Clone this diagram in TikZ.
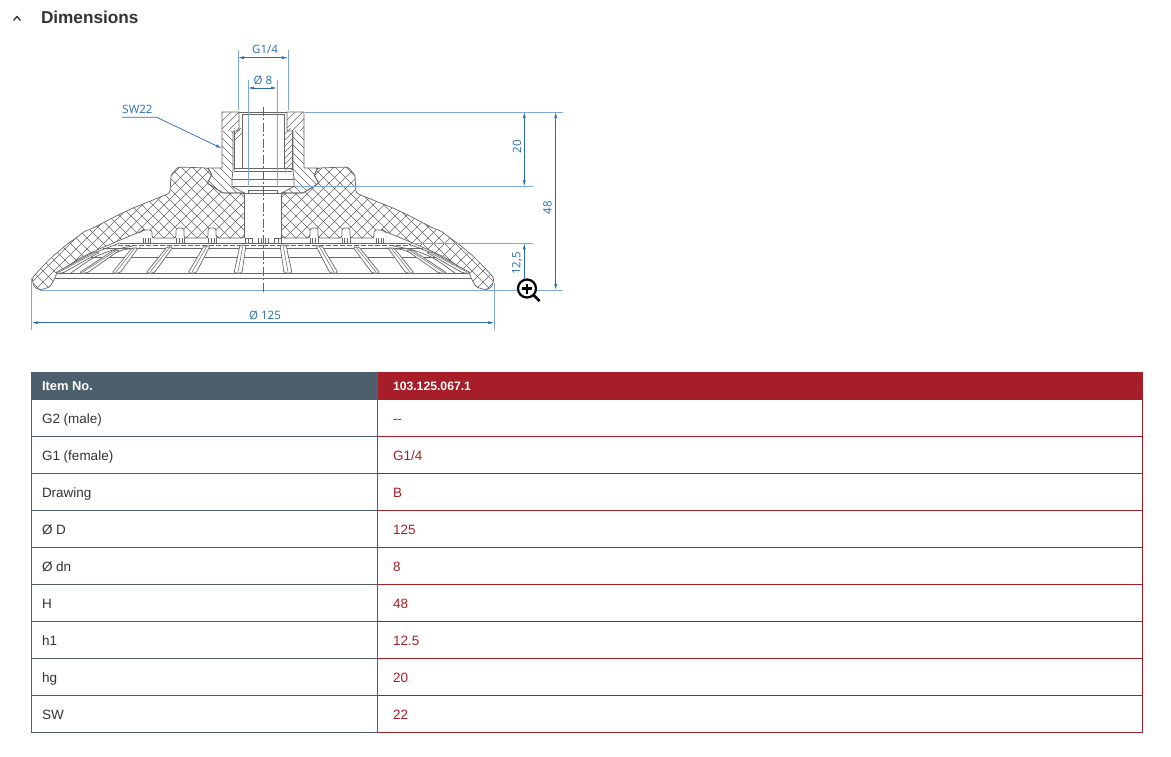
\documentclass[tikz,border=0pt]{standalone}
\usepackage{fontspec}
\setmainfont{Liberation Sans}
\newfontfamily\dimfont{Open Sans}
\usetikzlibrary{arrows.meta}
\definecolor{slate}{HTML}{4D5F6C}
\definecolor{wine}{HTML}{A81E28}
\definecolor{inkgrey}{HTML}{333333}
\definecolor{dimblue}{HTML}{2B6CB0}
\definecolor{extblue}{HTML}{7FA8D8}
\definecolor{partgrey}{HTML}{666666}
\newcommand{\rubberpath}{(18.5,193) -- (40,193) -- (56,183) -- (51,175) -- (55,168) -- (85,167) -- (92,175) -- (93,193) -- (110,200) -- (130,208) -- (151,218) -- (160,223) -- (172,229) -- (178,231) -- (187,238) -- (197,245) -- (205,252) -- (209,255) -- (220,266) -- (231,278) -- (229,287) -- (223,290) -- (213,287) -- (208,278) -- (207,274) -- (183,258) -- (166,250) -- (145,241) -- (121,231) -- (120,230) -- (111,230) -- (111,238) -- (87,238) -- (87,228) -- (79,228) -- (79,238) -- (55,238) -- (55,228) -- (47,228) -- (47,238) -- (18.5,238) -- cycle}
\newcommand{\metalpath}{(24,112) -- (41,112) -- (41,168) -- (55,168) -- (51,175) -- (56,183) -- (40,193) -- (18.5,193) -- (31,186.5) -- (31,179) -- (30,170) -- (30,131) -- (24,131) -- cycle}
\begin{document}
\begin{tikzpicture}[
  x=1pt, y=-1pt,
  every node/.style={inner sep=0pt, outer sep=0pt},
  part/.style={draw=partgrey, line width=.7pt},
  hatchline/.style={draw=partgrey, line width=.5pt},
  extline/.style={draw=extblue, line width=.7pt},
  dimline/.style={draw=dimblue, line width=.7pt, {Latex[length=6pt,width=3pt]}-{Latex[length=6pt,width=3pt]}},
  dimtext/.style={text=dimblue, font=\dimfont\fontsize{11.5}{13}\selectfont}
]
\tikzset{
  leftcell/.style={anchor=base west, text=inkgrey, font=\fontsize{13.5}{16}\selectfont},
  rightcell/.style={anchor=base west, text=wine, font=\fontsize{13.5}{16}\selectfont},
  headcell/.style={anchor=base west, text=white, font=\bfseries\fontsize{12.5}{15}\selectfont}
}
\fill[white] (0,0) rectangle (1171,757);
\useasboundingbox (0,0) rectangle (1171,757);

\coordinate (chevl) at (13.5,20.5);
\coordinate (chevt) at (17,16.5);
\coordinate (chevr) at (20.5,20.5);
\draw[inkgrey, line width=1.3pt] (chevl) -- (chevt) -- (chevr);
\node[anchor=base west, text=inkgrey, font=\bfseries\fontsize{17.2}{20}\selectfont] (title) at (41,24) {Dimensions};

\foreach \sgn in {-1,1} {
  \begin{scope}[shift={(263,0)}, xscale=\sgn]
    \begin{scope}
      \clip \rubberpath;
      \foreach \c in {-176,-165,...,385} {
        \draw[hatchline] (\c,150) -- (\c+150,300);
        \draw[hatchline] (\c,150) -- (\c-150,300);
      }
    \end{scope}
    \draw[part, rounded corners=2.5pt] \rubberpath;
    \begin{scope}
      \clip \metalpath;
      \foreach \c in {0,8,...,64} {
        \draw[hatchline] (\c,112) -- ({\c-\sgn*19},131);
      }
      \foreach \c in {-48,-40,...,120} {
        \draw[hatchline] (\c,131) -- ({\c+\sgn*64},195);
      }
    \end{scope}
    \draw[part] \metalpath;
    \begin{scope}
      \clip (21,128) rectangle (29,170);
      \foreach \c in {16,22,...,76} {
        \draw[hatchline] (\c,128) -- ({\c-\sgn*42},170);
      }
    \end{scope}
    \draw[part] (0,112) -- (24,112);
    \draw[part] (0,114) -- (21,114) -- (21,168);
    \draw[part, line width=1pt] (29,131) -- (29,170);
    \draw[part] (0,168) -- (29,168);
    \draw[part] (0,171) -- (29,171);
    \draw[part] (0,179) -- (31,179);
    \draw[part] (0,186.5) -- (31,186.5);
    \draw[part] (0,190) -- (14.5,190) -- (14.5,193);
    \draw[part] (0,193) -- (18.5,193) -- (18.5,238);
    \draw[part] (0,243) -- (143,243);
    \draw[part, dash pattern=on 5pt off 2pt] (0,245) -- (148,245);
    \draw[part] (0,248) -- (160,248);
    \draw[part] (0,257) -- (178,257);
    \draw[part] (0,273) -- (205,273);
    \draw[part] (0,278) -- (208,278);
    \draw[part] (0,290) -- (223,290);
    \foreach \rx in {47,55,79,87,113,120} {
      \draw[part] (\rx,238) -- (\rx,243);
    }
    \foreach \rx in {49,52,81,84,115,118,11,15,18} {
      \draw[part, line width=.5pt] (\rx,238) -- (\rx,244);
    }
    \draw[part] (2,238) -- (2,243);
    \draw[part] (5,238) -- (5,243);
    \draw[part] (11,238) -- (18,238);
    \draw[part] plot[smooth] coordinates {(143,243) (166,252) (183,261) (203,274)};
    \draw[part] plot[smooth] coordinates {(130,246) (150,250) (170,258) (192,273)};
    \draw[part] plot[smooth] coordinates {(122,248) (140,250) (158,258) (180,273)};
    \foreach \ra/\rb/\ya in {20/26/245,56/72/246,93/114/247,128/148/248,146/181/250,166/205/252} {
      \draw[part, fill=white, rounded corners=1.5pt] (\ra-3,\ya) -- (\rb-5,273) -- (\rb+3,273) -- (\ra+3,\ya) -- cycle;
      \draw[part, line width=.5pt] (\ra,\ya) -- (\rb-1,272);
    }
  \end{scope}
}

\foreach \xa/\ya/\xb/\yb [count=\k] in {238/50/238/110,288/50/288/110,248/80/248/185,277/80/277/185,305/112/563/112,295/186.3/532.7/186.3,407/243.3/532.7/243.3,40/290/563/290,31.7/278/31.7/330,494.3/283/494.3/330} {
  \coordinate (exa\k) at (\xa,\ya);
  \coordinate (exb\k) at (\xb,\yb);
  \draw[extline] (exa\k) -- (exb\k);
}
\coordinate (axistop) at (263,106.7);
\coordinate (axisbot) at (263,293);
\draw[draw=dimblue, line width=.7pt, dash pattern=on 9pt off 2.5pt on 2pt off 2.5pt] (axistop) -- (axisbot);

\coordinate (gl) at (238,57.7);
\coordinate (gr) at (288,57.7);
\draw[dimline] (gl) -- (gr);
\node[dimtext] (gtext) at (265,49.5) {G1/4};
\coordinate (bl) at (248,88);
\coordinate (br) at (277,88);
\draw[dimline] (bl) -- (br);
\node[dimtext] (btext) at (263,80.5) {Ø 8};
\node[dimtext] (swtext) at (137.5,109) {SW22};
\coordinate (swa) at (121.7,117.3);
\coordinate (swb) at (156.7,117.3);
\coordinate (swc) at (221.7,148.3);
\draw[draw=dimblue, line width=.7pt, -{Latex[length=6pt,width=3pt]}] (swa) -- (swb) -- (swc);
\coordinate (ta) at (524.3,112);
\coordinate (tb) at (524.3,186.3);
\draw[dimline] (ta) -- (tb);
\node[dimtext, rotate=90] (ttext) at (517,147) {20};
\coordinate (ha) at (555.7,112);
\coordinate (hb) at (555.7,290);
\draw[dimline] (ha) -- (hb);
\node[dimtext, rotate=90] (htext) at (547.5,208) {48};
\coordinate (la) at (524.3,243.3);
\coordinate (lb) at (524.3,290);
\draw[draw=dimblue, line width=.7pt, {Latex[length=6pt,width=3pt]}-] (la) -- (lb);
\node[dimtext, rotate=90] (ltext) at (517,263.5) {12,5};
\coordinate (da) at (31.7,322.7);
\coordinate (db) at (494.3,322.7);
\draw[dimline] (da) -- (db);
\node[dimtext] (dtext) at (265,315) {Ø 125};

\node[circle, draw=black, fill=white, line width=2.2pt, minimum size=18pt] (lens) at (527,288.5) {};
\coordinate (grip) at (539.5,301);
\draw[black, line width=2.6pt] (lens.south east) -- (grip);
\coordinate (plusl) at (522,288.5);
\coordinate (plusr) at (532,288.5);
\coordinate (plust) at (527,283.5);
\coordinate (plusb) at (527,293.5);
\draw[black, line width=2.6pt] (plusl) -- (plusr);
\draw[black, line width=2.6pt] (plust) -- (plusb);

\fill[slate] (31,372) rectangle (378,400);
\fill[wine] (378,372) rectangle (1142.5,400);
\node[headcell, font=\bfseries\fontsize{12.9}{15}\selectfont] (itemlab) at (42,390) {Item No.};
\node[headcell, font=\bfseries\fontsize{12.2}{15}\selectfont] (itemval) at (393,390) {103.125.067.1};
\foreach \lab/\val [count=\i] in {G2 (male)/{-\kern0pt-},G1 (female)/{G1/4},Drawing/B,Ø D/125,Ø dn/8,H/48,h1/12.5,hg/20,SW/22} {
  \pgfmathsetmacro{\ybot}{400+37*\i-.5}
  \pgfmathsetmacro{\ytxt}{\ybot-13.2}
  \coordinate (la\i) at (31,\ybot);
  \coordinate (lb\i) at (378,\ybot);
  \coordinate (lc\i) at (1142.5,\ybot);
  \draw[slate, line width=1pt] (la\i) -- (lb\i);
  \draw[wine, line width=1pt] (lb\i) -- (lc\i);
  \node[leftcell] (lab\i) at (42,\ytxt) {\lab};
  \node[rightcell] (val\i) at (393,\ytxt) {\val};
}
\draw[slate, line width=1pt] (31.5,400) -- (31.5,733);
\draw[slate, line width=1pt] (377.5,400) -- (377.5,733);
\draw[wine, line width=1pt] (1142.5,400) -- (1142.5,733);
\end{tikzpicture}
\end{document}
